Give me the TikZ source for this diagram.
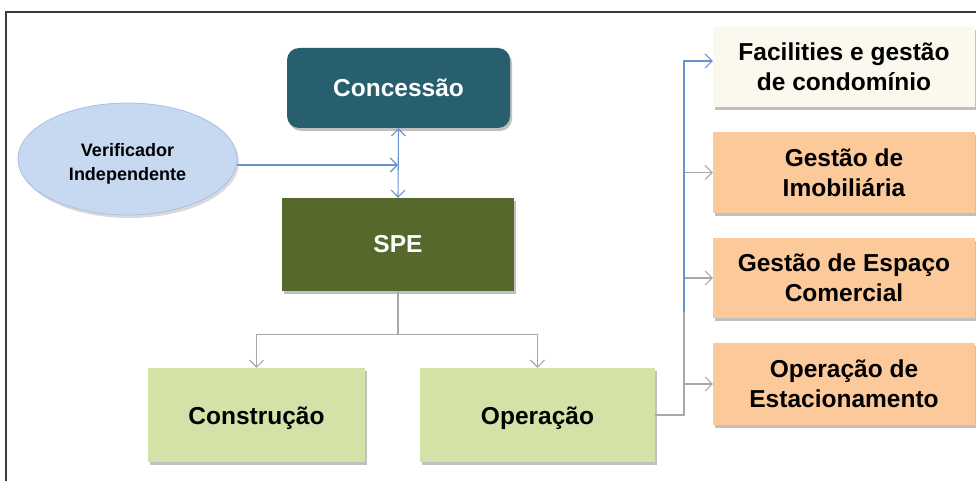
\documentclass[tikz,border=0pt]{standalone}
\usepackage{fontspec}
\setmainfont{Liberation Sans}
\usetikzlibrary{arrows.meta,shadows,shapes.geometric}
\definecolor{concC}{HTML}{275F6E}
\definecolor{speC}{HTML}{56692D}
\definecolor{lgreenC}{HTML}{D3E3A8}
\definecolor{creamC}{HTML}{FBF9EE}
\definecolor{orangeC}{HTML}{FCC99B}
\definecolor{ellC}{HTML}{C6D9F1}
\definecolor{ellB}{HTML}{A7C0E3}
\definecolor{blueL}{HTML}{6A92CC}
\definecolor{grayL}{HTML}{A8A8A8}
\definecolor{frameC}{HTML}{3A3A3A}
\begin{document}
\begin{tikzpicture}[x=1pt,y=-1pt,
  box/.style={rectangle, inner sep=0pt, align=center,
    font=\bfseries\fontsize{24.5}{30}\selectfont,
    drop shadow={shadow xshift=2pt,shadow yshift=-3pt,opacity=0.45,fill=black!55}},
  darkbox/.style={box, text=white},
  bluearrow/.style={draw=blueL, line width=1.1pt, -{Straight Barb[length=7pt,width=14pt]}},
  grayarrow/.style={draw=grayL, line width=1.1pt, -{Straight Barb[length=7pt,width=14pt]}}
]
\useasboundingbox (0,0) rectangle (976,481);
\draw[frameC, line width=1.6pt] (6,481) -- (6,12) -- (976,12);

\node[darkbox, fill=concC, rounded corners=12pt, minimum width=223pt, minimum height=80pt] (conc) at (398.5,88) {Concessão};
\node[ellipse, fill=ellC, draw=ellB, line width=0.8pt, inner sep=0pt, minimum width=219pt, minimum height=112pt, align=center,
  font=\bfseries\fontsize{18}{24}\selectfont,
  drop shadow={shadow xshift=2pt,shadow yshift=-3pt,opacity=0.3,fill=black!50}] (verif) at (127.5,159) {};
\node[align=center, font=\bfseries\fontsize{18}{24}\selectfont, inner sep=0pt] (veriftxt) at (127.5,164) {Verificador\\Independente};
\node[darkbox, fill=speC, minimum width=232pt, minimum height=93pt] (spe) at (398,244.5) {SPE};
\node[box, fill=lgreenC, minimum width=217pt, minimum height=94pt, text depth=0pt] (cons) at (256.5,415) {\raisebox{-2pt}{Construção}};
\node[box, fill=lgreenC, minimum width=235pt, minimum height=94pt, text depth=0pt] (oper) at (537.5,415) {\raisebox{-2pt}{Operação}};
\node[box, fill=creamC, minimum width=262pt, minimum height=80pt] (fac) at (844,67) {\raisebox{-2pt}{Facilities e gestão}\\\raisebox{-2pt}{de condomínio}};
\node[box, fill=orangeC, minimum width=262pt, minimum height=81pt] (imob) at (844,172.5) {Gestão de\\Imobiliária};
\node[box, fill=orangeC, minimum width=262pt, minimum height=80pt] (esp) at (844,278) {Gestão de Espaço\\Comercial};
\node[box, fill=orangeC, minimum width=262pt, minimum height=82pt] (est) at (844,384) {\raisebox{-2pt}{Operação de}\\\raisebox{-2pt}{Estacionamento}};

% Verificador -> axis, Concessao <-> SPE
\coordinate (vj) at (398,165);
\draw[bluearrow] (verif.east |- vj) -- (vj);
\draw[draw=blueL, line width=1.1pt, {Straight Barb[length=7pt,width=14pt]}-{Straight Barb[length=7pt,width=14pt]}] (conc.south) -- (spe.north);

% SPE -> Construcao / Operacao
\draw[draw=grayL, line width=1.1pt] (spe.south) -- ++(0,43) coordinate (sj);
\draw[grayarrow] (sj) -| (cons.north);
\draw[grayarrow] (sj) -| (oper.north);

% Operacao -> right column
\coordinate (rx) at (684,0);
\draw[draw=grayL, line width=1.1pt] (oper.east) -| (rx |- est.west);
\draw[grayarrow] (rx |- est.west) -- (est.west);
\draw[draw=grayL, line width=1.1pt] (rx |- est.west) -- (rx |- imob.west);
\draw[grayarrow] (rx |- esp.west) -- (esp.west);
\draw[grayarrow] (rx |- imob.west) -- (imob.west);
\coordinate (bstart) at (684,312);
\draw[bluearrow] (bstart) |- ([yshift=6pt]fac.west);
\end{tikzpicture}
\end{document}
